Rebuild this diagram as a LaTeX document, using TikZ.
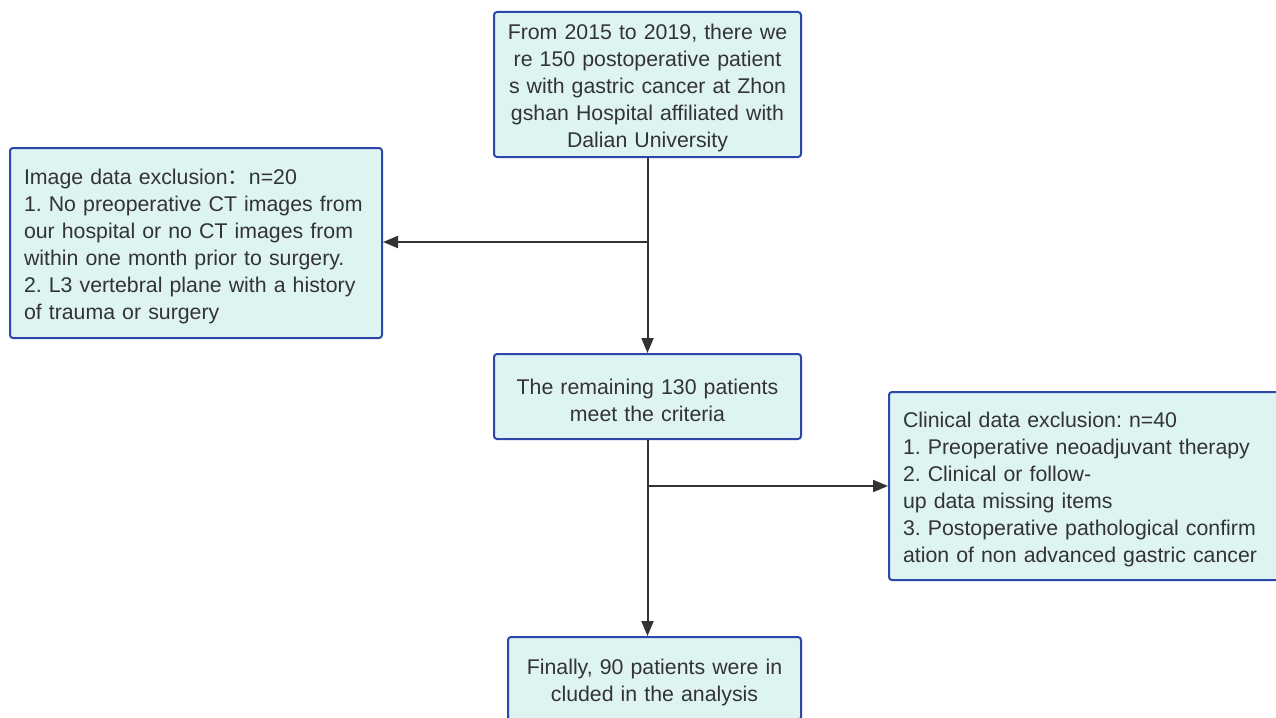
\documentclass[tikz,border=0pt]{standalone}
\usepackage{fontspec}
\setmainfont{Liberation Sans}
\newfontfamily\cjk{Noto Sans CJK SC}
\usetikzlibrary{arrows.meta}
\definecolor{boxfill}{RGB}{221,244,243}
\definecolor{boxline}{RGB}{45,70,170}
\definecolor{ink}{RGB}{51,51,51}
\frenchspacing

\begin{document}
\begin{tikzpicture}[x=1pt,y=-1pt,
    box/.style={draw=boxline, fill=boxfill, line width=2pt, rounded corners=3pt,
        text=ink, inner sep=0pt, font=\fontsize{21.3}{27}\selectfont,
        execute at begin node={\rule{0pt}{22.5pt}}},
    flow/.style={-{Triangle[length=15pt,width=12pt]}, line width=2pt, draw=ink}]
    \useasboundingbox (0,0) rectangle (1276,717);

    \node[box, minimum width=307pt, minimum height=145pt, text width=300pt, align=center] (start) at (647.5,84.5)
        {From 2015 to 2019, there we\\re 150 postoperative patient\\s with gastric cancer at Zhon\\gshan Hospital affiliated with\\Dalian University};
    \node[box, minimum width=372pt, minimum height=190pt, text width=344pt, align=left] (imgexcl) at (196,243)
        {Image data exclusion{\cjk ：}n=20\\1. No preoperative CT images from\\our hospital or no CT images from\\within one month prior to surgery.\\2. L3 vertebral plane with a history\\of trauma or surgery};
    \node[box, minimum width=307pt, minimum height=85pt, text width=300pt, align=center,
        execute at begin node={\rule{0pt}{18.5pt}}] (remain) at (647.5,396.5)
        {The remaining 130 patients\\meet the criteria};
    \node[box, minimum width=393pt, minimum height=188pt, text width=365pt, align=left] (clinexcl) at (1085.5,486)
        {Clinical data exclusion: n=40\\1. Preoperative neoadjuvant therapy\\2. Clinical or follow-\\up data missing items\\3. Postoperative pathological confirm\\ation of non advanced gastric cancer};
    \node[box, minimum width=293pt, minimum height=83pt, text width=290pt, align=center] (final) at (654.5,678.5)
        {Finally, 90 patients were in\\cluded in the analysis};

    \coordinate (split1) at (647.5,242);
    \coordinate (split2) at (647.5,486);

    \draw[flow] (start.south) -- (start.south |- remain.north);
    \draw[flow] (split1) -- (split1 -| imgexcl.east);
    \draw[flow] (remain.south) -- (remain.south |- final.north);
    \draw[flow] (split2) -- (split2 -| clinexcl.west);
\end{tikzpicture}
\end{document}
